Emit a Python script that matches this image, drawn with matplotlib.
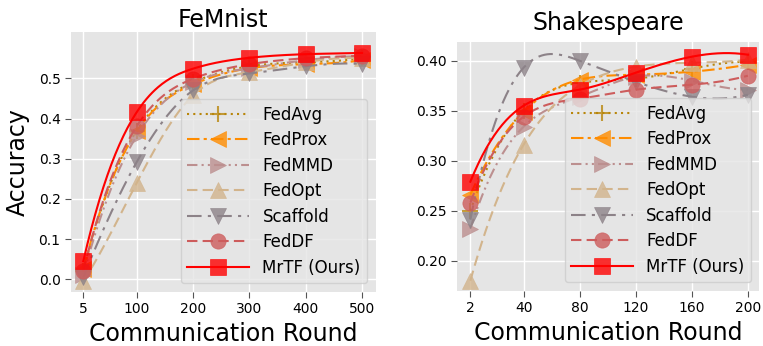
import numpy as np
import matplotlib
matplotlib.use("Agg")
import matplotlib.pyplot as plt
from matplotlib.colors import to_rgba

# FeMnist
rounds_fem = [5, 100, 200, 300, 400, 500]
fem_fedavg = [0.020, 0.370, 0.490, 0.530, 0.540, 0.550]
fem_fedprox = [0.025, 0.368, 0.485, 0.525, 0.535, 0.545]
fem_fedmmd = [0.010, 0.357, 0.490, 0.525, 0.545, 0.555]
fem_fedopt = [-0.005, 0.240, 0.458, 0.515, 0.540, 0.550]
fem_scaffold = [0.005, 0.292, 0.470, 0.512, 0.530, 0.536]
fem_feddf = [0.020, 0.381, 0.499, 0.535, 0.550, 0.556]
fem_mrtf = [0.045, 0.416, 0.524, 0.551, 0.560, 0.563]

# Shakespeare
rounds_shk = [2, 40, 80, 120, 160, 200]
shk_fedavg = [0.250, 0.350, 0.378, 0.382, 0.392, 0.399]
shk_fedprox = [0.266, 0.349, 0.381, 0.386, 0.389, 0.396]
shk_fedmmd = [0.232, 0.334, 0.364, 0.384, 0.380, 0.371]
shk_fedopt = [0.180, 0.316, 0.375, 0.394, 0.398, 0.401]
shk_scaffold = [0.241, 0.393, 0.400, 0.379, 0.364, 0.366]
shk_feddf = [0.258, 0.344, 0.362, 0.371, 0.376, 0.385]
shk_mrtf = [0.279, 0.355, 0.371, 0.388, 0.404, 0.406]

names = ["FedAvg", "FedProx", "FedMMD", "FedOpt", "Scaffold", "FedDF", "MrTF (Ours)"]
colors = ["#b8860b", "#ff8c00", "#bc8f8f", "#d2b48c", "#8c8288", "#cd5c5c", "#ff0000"]
markers = ["+", "<", ">", "^", "v", "o", "s"]
styles = [(0, (1, 2)), (0, (6, 2, 1.5, 2)), (0, (5, 2, 1, 2, 1, 2)), (0, (5, 2.5)),
          (0, (7, 3, 1.5, 3)), (0, (5, 2.5)), "-"]


def smooth(xs, ys, per=40):
    # not-a-knot cubic spline through the points
    xs = np.asarray(xs, float)
    ys = np.asarray(ys, float)
    m = len(xs) - 1
    h = np.diff(xs)
    A = np.zeros((4 * m, 4 * m))
    b = np.zeros(4 * m)
    r = 0
    for i in range(m):
        A[r, 4 * i] = 1
        b[r] = ys[i]
        r += 1
        A[r, 4 * i:4 * i + 4] = [1, h[i], h[i] ** 2, h[i] ** 3]
        b[r] = ys[i + 1]
        r += 1
    for i in range(m - 1):
        A[r, 4 * i + 1:4 * i + 4] = [1, 2 * h[i], 3 * h[i] ** 2]
        A[r, 4 * (i + 1) + 1] = -1
        r += 1
        A[r, 4 * i + 2:4 * i + 4] = [2, 6 * h[i]]
        A[r, 4 * (i + 1) + 2] = -2
        r += 1
    A[r, 3] = 1
    A[r, 7] = -1
    r += 1
    A[r, 4 * (m - 2) + 3] = 1
    A[r, 4 * (m - 1) + 3] = -1
    coef = np.linalg.solve(A, b).reshape(m, 4)
    xd, yd = [], []
    for i in range(m):
        t = np.linspace(0, h[i], per, endpoint=(i == m - 1))
        a0, a1, a2, a3 = coef[i]
        xd.append(xs[i] + t)
        yd.append(a0 + a1 * t + a2 * t ** 2 + a3 * t ** 3)
    marks = [i * per for i in range(m)] + [m * per - 1]
    return np.concatenate(xd), np.concatenate(yd), marks


def draw(ax, x, series):
    for ys, name, c, mk, ls in zip(series, names, colors, markers, styles):
        xd, yd, marks = smooth(x, ys)
        fc = to_rgba(c, 0.8)
        ax.plot(xd, yd, color=c, linestyle=ls, linewidth=1.5, marker=mk,
                markevery=marks, markersize=11, markerfacecolor=fc,
                markeredgecolor=fc, markeredgewidth=1.5 if mk == "+" else 0.5,
                label=name)
    ax.set_facecolor("#e5e5e5")
    ax.grid(True, color="white", linewidth=1.0)
    ax.set_axisbelow(True)
    for s in ax.spines.values():
        s.set_visible(False)
    ax.tick_params(labelsize=10, color="#555555", length=4, labelcolor="black")
    ax.set_xticks(x)
    ax.set_xlabel("Communication Round", fontsize=17, labelpad=4)
    ax.legend(loc="lower right", fontsize=12, handlelength=3.7,
              labelspacing=0.45, framealpha=0.8, facecolor="#e5e5e5",
              edgecolor="#cccccc", borderaxespad=0.5)


W, H = 763, 346
fig = plt.figure(figsize=(W / 100, H / 100), dpi=100)
ax1 = fig.add_axes([71 / W, (H - 291.7) / H, 304.7 / W, 260 / H])
ax2 = fig.add_axes([457.3 / W, (H - 290.7) / H, 302.2 / W, 248.4 / H])

draw(ax1, rounds_fem, [fem_fedavg, fem_fedprox, fem_fedmmd, fem_fedopt,
                       fem_scaffold, fem_feddf, fem_mrtf])
ax1.set_xlim(-16.8, 524.3)
ax1.set_ylim(-0.0308, 0.6159)
ax1.set_yticks([0.0, 0.1, 0.2, 0.3, 0.4, 0.5])
ax1.set_ylabel("Accuracy", fontsize=17, labelpad=6)
ax1.set_title("FeMnist", fontsize=17, pad=0)

draw(ax2, rounds_shk, [shk_fedavg, shk_fedprox, shk_fedmmd, shk_fedopt,
                       shk_scaffold, shk_feddf, shk_mrtf])
ax2.set_xlim(-7.3, 208.3)
ax2.set_ylim(0.170, 0.4184)
ax2.set_yticks([0.20, 0.25, 0.30, 0.35, 0.40])
ax2.set_yticklabels(["0.20", "0.25", "0.30", "0.35", "0.40"])
ax2.set_title("Shakespeare", fontsize=17, pad=9)

fig.savefig("out.png", dpi=100)
